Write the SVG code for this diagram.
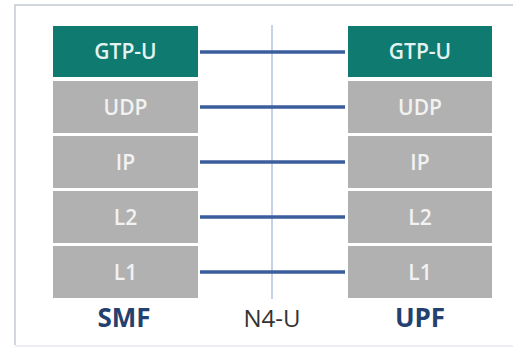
<svg xmlns="http://www.w3.org/2000/svg" width="513" height="351" viewBox="0 0 513 351">
  <style>
    .frame { stroke: #c4cad4; stroke-width: 1.5; fill: none; }
    .box-teal { fill: #0e7a70; }
    .box-gray { fill: #b1b1b1; }
    .layer { font-family: "Open Sans", "Liberation Sans", sans-serif; font-size: 21px; font-weight: 600; text-anchor: middle; }
    .layer-teal { fill: #e4f3f1; }
    .layer-gray { fill: #f2f2f2; }
    .peer { stroke: #3a5d9c; stroke-width: 3.5; }
    .axis { stroke: #9db2d6; stroke-width: 1.2; }
    .side { font-family: "Open Sans", "Liberation Sans", sans-serif; font-size: 26px; font-weight: 700; fill: #23406e; text-anchor: middle; }
    .iface { font-family: "Open Sans", "Liberation Sans", sans-serif; font-size: 24px; fill: #333333; text-anchor: middle; }
  </style>
  <rect width="513" height="351" fill="#ffffff"/>
  <!-- surrounding frame -->
  <path class="frame" d="M15,345 V5 H513"/>
  <path d="M15,346 H513" stroke="#e6e9ee" stroke-width="1.5"/>

  <!-- SMF protocol stack -->
  <g id="smf">
    <g id="smf-gtpu"><rect class="box-teal" x="53" y="26" width="145" height="51"/><text class="layer layer-teal" x="125.5" y="59">GTP-U</text></g>
    <g id="smf-udp"><rect class="box-gray" x="53" y="81" width="145" height="52"/><text class="layer layer-gray" x="125.5" y="114.5">UDP</text></g>
    <g id="smf-ip"><rect class="box-gray" x="53" y="136" width="145" height="52"/><text class="layer layer-gray" x="125.5" y="169.5">IP</text></g>
    <g id="smf-l2"><rect class="box-gray" x="53" y="191" width="145" height="52"/><text class="layer layer-gray" x="125.5" y="224.5">L2</text></g>
    <g id="smf-l1"><rect class="box-gray" x="53" y="246" width="145" height="52"/><text class="layer layer-gray" x="125.5" y="279.5">L1</text></g>
    <text class="side" x="124" y="327">SMF</text>
  </g>

  <!-- UPF protocol stack -->
  <g id="upf">
    <g id="upf-gtpu"><rect class="box-teal" x="348" y="26" width="144" height="51"/><text class="layer layer-teal" x="420" y="59">GTP-U</text></g>
    <g id="upf-udp"><rect class="box-gray" x="348" y="81" width="144" height="52"/><text class="layer layer-gray" x="420" y="114.5">UDP</text></g>
    <g id="upf-ip"><rect class="box-gray" x="348" y="136" width="144" height="52"/><text class="layer layer-gray" x="420" y="169.5">IP</text></g>
    <g id="upf-l2"><rect class="box-gray" x="348" y="191" width="144" height="52"/><text class="layer layer-gray" x="420" y="224.5">L2</text></g>
    <g id="upf-l1"><rect class="box-gray" x="348" y="246" width="144" height="52"/><text class="layer layer-gray" x="420" y="279.5">L1</text></g>
    <text class="side" x="420" y="327">UPF</text>
  </g>

  <!-- N4-U reference point -->
  <g id="n4u">
    <text class="iface" x="272" y="327">N4-U</text>
  </g>

  <!-- peer-layer connectors -->
  <g id="connectors">
    <line class="axis" x1="272" y1="25" x2="272" y2="299"/>
    <line class="peer" x1="200" y1="52" x2="345" y2="52"/>
    <line class="peer" x1="200" y1="107" x2="345" y2="107"/>
    <line class="peer" x1="200" y1="162" x2="345" y2="162"/>
    <line class="peer" x1="200" y1="217" x2="345" y2="217"/>
    <line class="peer" x1="200" y1="272" x2="345" y2="272"/>
  </g>
</svg>
